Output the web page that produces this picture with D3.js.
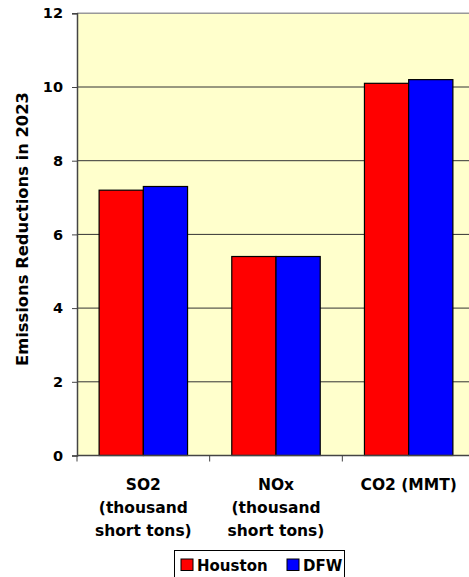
<!DOCTYPE html>
<html>
<head>
<meta charset="utf-8">
<script src="https://cdn.jsdelivr.net/npm/d3@7"></script>
<style>
  body { margin: 0; background: #fff; }
  text { font-family: "DejaVu Sans", Arial, sans-serif; font-weight: bold; fill: #000; }
</style>
</head>
<body>
<div id="chart"></div>
<script>
// Emissions reductions chart, grouped bars

const categories = ["SO2 (thousand short tons)", "NOx (thousand short tons)", "CO2 (MMT)"];
const categoryLines = [["SO2", "(thousand", "short tons)"], ["NOx", "(thousand", "short tons)"], ["CO2 (MMT)"]];
const seriesNames = ["Houston", "DFW"];
const houston = [7.2, 5.4, 10.1];
const dfw = [7.3, 5.4, 10.2];
const yTicks = [0, 2, 4, 6, 8, 10, 12];
const colors = ["#ff0000", "#0000ff"];

const width = 469, height = 577;
const margin = { left: 77, top: 13.3, right: -6, bottom: 121.5 };
const fontFamily = "'DejaVu Sans', Arial, sans-serif";

const svg = d3.select("#chart")
  .append("svg")
  .attr("width", width)
  .attr("height", height);

const x = d3.scaleBand()
  .domain(categories)
  .range([margin.left, width - margin.right])
  .paddingInner(0)
  .paddingOuter(0);

const xInner = d3.scaleBand()
  .domain(seriesNames)
  .range([0, x.bandwidth()])
  .paddingOuter(0.5)
  .paddingInner(0);

const y = d3.scaleLinear()
  .domain([0, 12])
  .range([height - margin.bottom, margin.top]);

// plot background
svg.append("rect")
  .attr("x", margin.left)
  .attr("y", y(12))
  .attr("width", width - margin.left)
  .attr("height", y(0) - y(12))
  .attr("fill", "#ffffcc");

// top border
svg.append("line")
  .attr("x1", margin.left).attr("x2", width)
  .attr("y1", y(12)).attr("y2", y(12))
  .attr("stroke", "#999").attr("stroke-width", 1.5);

// gridlines
svg.selectAll(".grid")
  .data(yTicks.filter(d => d > 0 && d < 12))
  .enter()
  .append("line")
  .attr("x1", margin.left).attr("x2", width)
  .attr("y1", d => y(d)).attr("y2", d => y(d))
  .attr("stroke", "#333").attr("stroke-width", 1);

// bars
const data = categories.map((c, i) => ({ cat: c, values: [houston[i], dfw[i]] }));

const groups = svg.selectAll(".group")
  .data(data)
  .enter()
  .append("g")
  .attr("transform", d => "translate(" + x(d.cat) + ",0)");

groups.selectAll("rect")
  .data(d => d.values.map((v, i) => ({ name: seriesNames[i], value: v, i: i })))
  .enter()
  .append("rect")
  .attr("x", d => xInner(d.name))
  .attr("y", d => y(d.value))
  .attr("width", xInner.bandwidth())
  .attr("height", d => y(0) - y(d.value))
  .attr("fill", d => colors[d.i])
  .attr("stroke", "#000")
  .attr("stroke-width", 1.2);

// y axis
const yAxis = svg.append("g")
  .attr("transform", "translate(" + margin.left + ",0)")
  .call(d3.axisLeft(y).tickValues(yTicks).tickSize(5).tickPadding(9));
yAxis.select(".domain").attr("stroke", "#444").attr("stroke-width", 1.5);
yAxis.selectAll(".tick line").attr("stroke", "#444");
yAxis.selectAll(".tick text")
  .style("font-size", "14.5px")
  .style("font-weight", "bold")
  .style("font-family", fontFamily)
  .attr("fill", "#000");

// x axis
const xAxis = svg.append("g")
  .attr("transform", "translate(0," + y(0) + ")");
xAxis.append("line")
  .attr("x1", margin.left).attr("x2", width)
  .attr("y1", 0).attr("y2", 0)
  .attr("stroke", "#444").attr("stroke-width", 1.5);
xAxis.selectAll(".xtick")
  .data(categories)
  .enter()
  .append("line")
  .attr("x1", d => x(d)).attr("x2", d => x(d))
  .attr("y1", 0).attr("y2", 6)
  .attr("stroke", "#444");

// category labels
categories.forEach((c, i) => {
  const t = svg.append("text")
    .attr("text-anchor", "middle")
    .attr("x", x(c) + x.bandwidth() / 2)
    .attr("y", 490)
    .style("font-size", "15.5px");
  categoryLines[i].forEach((line, j) => {
    t.append("tspan")
      .attr("x", x(c) + x.bandwidth() / 2)
      .attr("dy", j === 0 ? 0 : 23)
      .text(line);
  });
});

// y axis title
svg.append("text")
  .attr("transform", "translate(28,229) rotate(-90)")
  .attr("text-anchor", "middle")
  .style("font-size", "15px")
  .attr("textLength", 274)
  .attr("lengthAdjust", "spacingAndGlyphs")
  .text("Emissions Reductions in 2023");

// legend
const legend = svg.append("g").attr("transform", "translate(174,550)");
legend.append("rect")
  .attr("x", 0.5).attr("y", 0.5)
  .attr("width", 170).attr("height", 27)
  .attr("fill", "#fff").attr("stroke", "#000").attr("stroke-width", 1);

const legendX = [7, 113];
seriesNames.forEach((name, i) => {
  legend.append("rect")
    .attr("x", legendX[i]).attr("y", 9)
    .attr("width", 12).attr("height", 11.5)
    .attr("fill", colors[i]).attr("stroke", "#000").attr("stroke-width", 1);
  legend.append("text")
    .attr("x", legendX[i] + 16).attr("y", 20.5)
    .style("font-size", "15px")
    .text(name);
});
</script>
</body>
</html>
